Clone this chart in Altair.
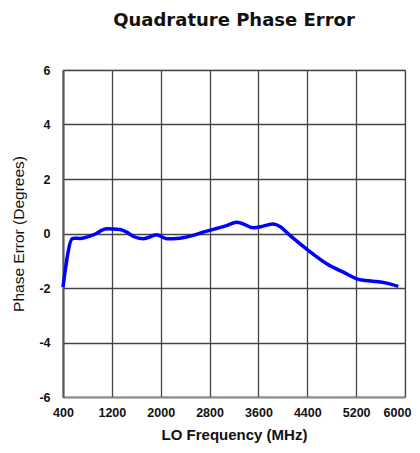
import altair as alt
import pandas as pd

freq = [400, 552, 596, 678, 896, 1115, 1333, 1443, 1552, 1715, 1933, 2097, 2315, 2533,
        2697, 2860, 3080, 3243, 3352, 3515, 3679, 3843, 3952, 4116, 4416, 4716, 4989,
        5262, 5480, 5698, 5889]
phase_err = [-1.96, -0.19, -0.17, -0.18, -0.05, 0.17, 0.15, 0.05, -0.11, -0.19, -0.05, -0.19,
             -0.17, -0.07, 0.05, 0.15, 0.29, 0.41, 0.35, 0.21, 0.27, 0.35, 0.26, -0.07,
             -0.62, -1.11, -1.42, -1.70, -1.75, -1.82, -1.94]
x_ticks = [400, 1200, 2000, 2800, 3600, 4400, 5200, 6000]
y_ticks = [-6, -4, -2, 0, 2, 4, 6]

df = pd.DataFrame({"f": freq, "e": phase_err})

FONT = "Liberation Sans"

chart = alt.Chart(df).mark_line(
    color="#0000FF", strokeWidth=3.5, interpolate="monotone"
).encode(
    x=alt.X("f:Q", scale=alt.Scale(domain=[400, 6000], nice=False, zero=False),
            axis=alt.Axis(values=x_ticks, title="LO Frequency (MHz)",
                          labelExpr="toString(datum.value)",
                          grid=True, gridColor="#444", gridWidth=1.3,
                          domainColor="#888", domainWidth=1.5, ticks=False,
                          labelPadding=9, labelFontSize=12.5, labelFontWeight="bold",
                          labelColor="#111", titleFontSize=15, titleFontWeight="bold",
                          titleColor="#111", titlePadding=9, labelFont=FONT, titleFont=FONT,
                          labelFlush=False,
                          labelOffset={"condition": {"test": "datum.value == 6000", "value": -8},
                                       "value": 0})),
    y=alt.Y("e:Q", scale=alt.Scale(domain=[-6, 6], nice=False),
            axis=alt.Axis(values=y_ticks, title="Phase Error (Degrees)",
                          labelExpr="toString(datum.value)",
                          grid=True, gridColor="#444", gridWidth=1.3,
                          domainColor="#555", domainWidth=2, ticks=False,
                          labelPadding=13, labelFontSize=12.5, labelFontWeight="bold",
                          labelColor="#111", titleFontSize=15.5, titleFontWeight="normal",
                          titleColor="#111", titlePadding=12, labelFont=FONT, titleFont=FONT)),
).properties(
    width=342, height=327,
    title=alt.TitleParams("Quadrature Phase Error", fontSize=18, fontWeight="bold",
                          font="DejaVu Sans", color="#111", anchor="middle", offset=34,
                          limit=0),
    autosize=alt.AutoSizeParams(type="none"),
    padding={"left": 55, "top": 62, "right": 7, "bottom": 48},
).configure_view(
    stroke="#999", strokeWidth=1.2
)

chart.save("out.html", embed_options={"renderer": "svg", "actions": False})
